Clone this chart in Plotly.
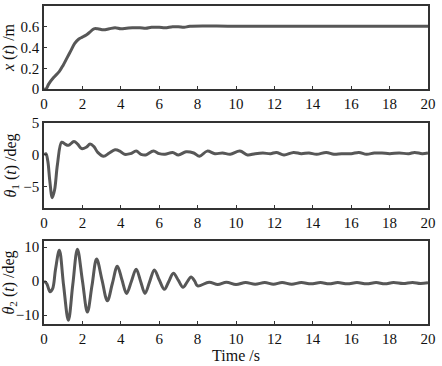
import plotly.graph_objects as go

# ---- data ----
t_x = [0, 0.1, 0.25, 0.5, 0.8, 1.0, 1.2, 1.4, 1.6, 1.8, 2.0, 2.2, 2.4, 2.6, 2.8, 3.1, 3.4, 3.7,
       4.0, 4.3, 4.6, 5.0, 5.3, 5.6, 6.0, 6.3, 6.7, 7.0, 7.3, 7.6, 10, 15, 20]
x_vals = [0, 0.0, 0.05, 0.11, 0.17, 0.23, 0.3, 0.37, 0.44, 0.48, 0.5, 0.52, 0.55, 0.58, 0.58, 0.57,
          0.58, 0.59, 0.58, 0.585, 0.59, 0.59, 0.585, 0.595, 0.595, 0.59, 0.6, 0.6, 0.595, 0.605,
          0.605, 0.605, 0.605]

t_th1 = [0, 0.1, 0.2, 0.3, 0.43, 0.55, 0.7, 0.92, 1.1, 1.27, 1.56, 1.75, 1.96, 2.2, 2.4, 2.6, 2.8,
         3.1, 3.4, 3.7, 3.95, 4.2, 4.5, 4.8, 5.05, 5.3, 5.7, 6.0, 6.3, 6.7, 7.0, 7.4, 7.8, 8.1, 8.5,
         8.9, 9.3, 9.7, 10.2, 10.6, 11.0, 11.4, 11.8, 12.1, 12.5, 13.0, 13.4, 13.8, 14.2, 14.7,
         15.1, 15.5, 16.0, 16.4, 16.8, 17.2, 17.6, 18.0, 18.5, 19.0, 19.3, 19.7, 20]
th1_vals = [0, 0.2, -1.0, -4.0, -6.7, -5.5, -1.5, 2.0, 1.7, 1.5, 2.1, 1.7, 1.0, 1.2, 1.7, 1.3, 0.4,
            -0.2, 0.3, 0.8, 0.6, 0.1, 0.2, 0.6, 0.1, 0.0, 0.6, 0.2, 0.1, 0.4, 0.0, 0.5, 0.3, -0.2,
            0.6, 0.2, 0.3, 0.1, 0.6, 0.0, 0.2, 0.3, 0.2, 0.4, 0.0, 0.4, 0.2, 0.3, 0.1, 0.4, 0.1,
            0.2, 0.2, 0.4, 0.1, 0.3, 0.3, 0.2, 0.3, 0.2, 0.4, 0.2, 0.3]

t_th2 = [0, 0.15, 0.31, 0.45, 0.6, 0.8, 1.02, 1.27, 1.5, 1.74, 2.0, 2.26, 2.5, 2.74, 3.02, 3.3,
         3.56, 3.82, 4.06, 4.3, 4.55, 4.8, 5.03, 5.26, 5.5, 5.75, 6.0, 6.27, 6.5, 6.74, 7.0, 7.24,
         7.45, 7.66, 7.85, 8.0, 8.6, 9.05, 9.5, 10.0, 10.5, 11.0, 11.5, 11.95, 12.4, 12.9, 13.4,
         13.9, 14.4, 14.85, 15.3, 15.8, 16.3, 16.8, 17.3, 17.75, 18.2, 18.7, 19.2, 19.6, 20]
th2_vals = [0, -0.8, -3.1, -2.2, 3.5, 9.1, -1.2, -11.5, -1.0, 9.4, 0.2, -9.1, -1.3, 6.5, 0.4, -5.8,
            -0.7, 4.4, 0.4, -3.6, -0.1, 3.5, 0.0, -3.6, -0.2, 3.3, 0.4, -2.4, -0.1, 2.3, 0.2, -1.8,
            -0.3, 1.2, 0.0, -1.4, -0.3, -1.0, -0.3, -1.0, -0.4, -0.9, -0.4, -0.9, -0.4, -0.9,
            -0.4, -0.8, -0.4, -0.8, -0.4, -0.8, -0.4, -0.8, -0.4, -0.8, -0.4, -0.7, -0.4, -0.7, -0.5]

x_ticks = list(range(0, 21, 2))
line_color = "#575757"
fam = "'Liberation Serif', 'Times New Roman', serif"
font = dict(family=fam, size=15, color="#111")
title_font = dict(family=fam, size=16, color="#111")

fig = go.Figure()
fig.add_trace(go.Scatter(x=t_x, y=x_vals, mode="lines", line=dict(color=line_color, width=3, shape="spline"),
                         xaxis="x", yaxis="y"))
fig.add_trace(go.Scatter(x=t_th1, y=th1_vals, mode="lines", line=dict(color=line_color, width=3, shape="spline"),
                         xaxis="x2", yaxis="y2"))
fig.add_trace(go.Scatter(x=t_th2, y=th2_vals, mode="lines", line=dict(color=line_color, width=3, shape="spline"),
                         xaxis="x3", yaxis="y3"))

ax_common = dict(showline=True, linecolor="#333", linewidth=1.5, mirror=True, ticks="inside",
                 ticklen=3, tickcolor="#333", showgrid=False, zeroline=False, tickfont=font,
                 automargin=False)

xa = dict(range=[0, 20], tickvals=x_ticks, **ax_common)
fig.update_layout(
    width=442, height=366, showlegend=False,
    plot_bgcolor="white", paper_bgcolor="white",
    margin=dict(l=44, r=14, t=6, b=42),
    font=font,
    xaxis=dict(anchor="y", **xa),
    xaxis2=dict(anchor="y2", **xa),
    xaxis3=dict(anchor="y3", title=dict(text="Time /s", font=title_font, standoff=2), **xa),
    yaxis=dict(domain=[0.739, 1.0], range=[0, 0.8], tickvals=[0, 0.2, 0.4, 0.6], ticktext=["0", "0.2", "0.4", "0.6"],
               title=dict(text="<i>x</i> (<i>t</i>) /m", font=title_font, standoff=3), **ax_common),
    yaxis2=dict(domain=[0.365, 0.632], range=[-8.3, 5], tickvals=[-5, 0, 5], ticktext=["\u22125", "0", "5"],
                title=dict(text="<i>θ</i><sub>1</sub> (<i>t</i>) /deg", font=title_font, standoff=3), **ax_common),
    yaxis3=dict(domain=[0, 0.261], range=[-12.6, 11.8], tickvals=[-10, 0, 10], ticktext=["\u221210", "0", "10"],
                title=dict(text="<i>θ</i><sub>2</sub> (<i>t</i>) /deg", font=title_font, standoff=3), **ax_common),
)

fig.write_html("out.html", config={"displayModeBar": False},
               post_script="document.body.style.margin='0';")
